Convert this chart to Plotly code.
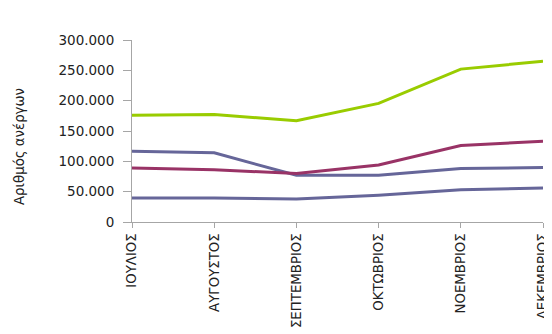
import plotly.graph_objects as go

months = ["ΙΟΥΛΙΟΣ", "ΑΥΓΟΥΣΤΟΣ", "ΣΕΠΤΕΜΒΡΙΟΣ", "ΟΚΤΩΒΡΙΟΣ", "ΝΟΕΜΒΡΙΟΣ", "ΔΕΚΕΜΒΡΙΟΣ"]
series_green = [176000, 177000, 167000, 195500, 252000, 265000]
series_magenta = [89000, 86000, 80000, 94000, 126000, 133000]
series_blue_upper = [116500, 114000, 77000, 77000, 88000, 90000]
series_blue_lower = [39500, 39500, 38000, 44000, 53000, 56000]
y_ticks = [0, 50000, 100000, 150000, 200000, 250000, 300000]
y_title = "Αριθμός ανέργων"

colors = {"green": "#99CC00", "magenta": "#993366", "blue": "#666699"}
FONT = "DejaVu Sans, Verdana, sans-serif"

fig = go.Figure()
for vals, col in [(series_blue_lower, colors["blue"]),
                  (series_blue_upper, colors["blue"]),
                  (series_magenta, colors["magenta"]),
                  (series_green, colors["green"])]:
    fig.add_trace(go.Scatter(x=months, y=vals, mode="lines",
                             line=dict(color=col, width=3), showlegend=False,
                             hoverinfo="skip", cliponaxis=False))

# the page body adds an 8px offset, so the figure is shrunk and margins shifted
fig.update_layout(
    width=544, height=326,
    margin=dict(l=124, r=9, t=32, b=112, autoexpand=False),
    paper_bgcolor="white", plot_bgcolor="white",
    separators=",.",
    font=dict(family=FONT, color="#222222"),
)
fig.update_xaxes(
    type="category", range=[0, 5], automargin=False,
    showline=True, linecolor="#A6A6A6", linewidth=1,
    ticks="outside", ticklen=5, tickcolor="#A6A6A6",
    tickangle=-90, tickfont=dict(size=13.3, color="#222222", family=FONT),
    showgrid=False, zeroline=False,
)
fig.update_yaxes(
    range=[0, 300000], tickvals=y_ticks, tickformat=",d", automargin=False,
    showline=True, linecolor="#A6A6A6", linewidth=1,
    ticks="outside", ticklen=8, tickcolor="#A6A6A6",
    ticklabelstandoff=6,
    tickfont=dict(size=13.5, color="#222222", family=FONT),
    showgrid=False, zeroline=False,
)
fig.add_annotation(
    text=y_title, xref="paper", yref="paper", x=(19 - 132) / 411, y=(222 - 147) / 182,
    xanchor="center", yanchor="middle", textangle=-90, showarrow=False,
    font=dict(size=13.3, color="#222222", family=FONT),
)

fig.write_html("out.html")
